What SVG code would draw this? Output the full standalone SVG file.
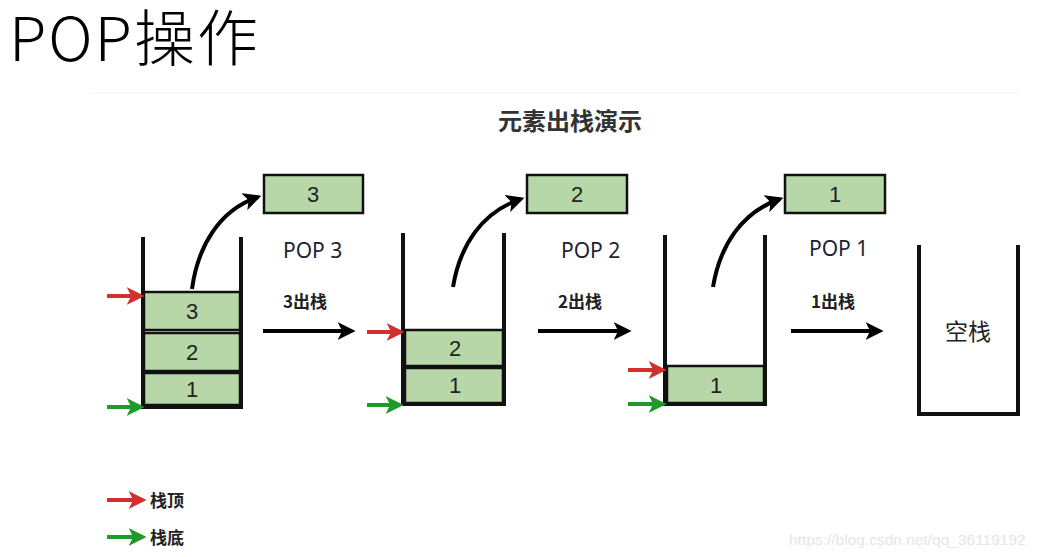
<svg xmlns="http://www.w3.org/2000/svg" width="1041" height="557" viewBox="0 0 1041 557">
<defs>
<marker id="ah" viewBox="0 0 10 10" refX="8" refY="5" markerWidth="4.5" markerHeight="4.5" orient="auto" markerUnits="strokeWidth"><path d="M0,0 L10,5 L0,10 L2.5,5 Z" fill="#000"/></marker>
<marker id="ahr" viewBox="0 0 10 10" refX="8" refY="5" markerWidth="4.5" markerHeight="4.5" orient="auto" markerUnits="strokeWidth"><path d="M0,0 L10,5 L0,10 L2.5,5 Z" fill="#d32f2f"/></marker>
<marker id="ahg" viewBox="0 0 10 10" refX="8" refY="5" markerWidth="4.5" markerHeight="4.5" orient="auto" markerUnits="strokeWidth"><path d="M0,0 L10,5 L0,10 L2.5,5 Z" fill="#1e9a2a"/></marker>
</defs>
<style>
.wall{fill:none;stroke:#111;stroke-width:4;stroke-linejoin:miter}
.box{fill:#b7d7a8;stroke:#111;stroke-width:2.5}
.num{font-family:"Liberation Sans",Arial,sans-serif;font-size:22px;fill:#222;text-anchor:middle}
.pop{font-family:"Noto Sans","Open Sans",sans-serif;font-size:21px;fill:#1c2433}
.cn{font-family:"Noto Sans CJK SC","Noto Sans",sans-serif;font-weight:bold;font-size:17px;fill:#222}
.conn{fill:none;stroke:#000;stroke-width:4;marker-end:url(#ah)}
.red{fill:none;stroke:#d32f2f;stroke-width:4;marker-end:url(#ahr)}
.green{fill:none;stroke:#1e9a2a;stroke-width:4;marker-end:url(#ahg)}
</style>
<rect width="1041" height="557" fill="#fff"/>
<text x="9" y="61" font-family="Noto Sans CJK SC,Noto Sans,sans-serif" font-weight="300" font-size="61" letter-spacing="2" fill="#000">POP操作</text>
<line x1="90" y1="93" x2="1020" y2="93" stroke="#f3f3f3" stroke-width="1"/>
<text x="570" y="130" text-anchor="middle" font-family="Noto Sans CJK SC,sans-serif" font-weight="bold" font-size="24" fill="#333">元素出栈演示</text>

<g id="stack1">
<rect class="box" x="144" y="292" width="96" height="38"/>
<text class="num" x="192" y="319">3</text>
<rect class="box" x="144" y="333" width="96" height="38"/>
<text class="num" x="192" y="360">2</text>
<rect class="box" x="144" y="373" width="96" height="32"/>
<text class="num" x="192" y="397">1</text>
<path class="wall" d="M143,237 V407 H241 V237"/>
</g>
<g id="popped3">
<rect class="box" x="264" y="175" width="99" height="38"/>
<text class="num" x="313" y="202">3</text>
</g>
<g id="stack2">
<rect class="box" x="405" y="330" width="98" height="36"/>
<text class="num" x="455" y="356">2</text>
<rect class="box" x="405" y="368" width="98" height="35"/>
<text class="num" x="455" y="393">1</text>
<path class="wall" d="M403,233 V404 H504 V233"/>
</g>
<g id="popped2">
<rect class="box" x="527" y="175" width="100" height="38"/>
<text class="num" x="577" y="202">2</text>
</g>
<g id="stack3">
<rect class="box" x="667" y="366" width="97" height="37"/>
<text class="num" x="716" y="393">1</text>
<path class="wall" d="M665,235 V404 H765 V235"/>
</g>
<g id="popped1">
<rect class="box" x="785" y="175" width="100" height="38"/>
<text class="num" x="835" y="202">1</text>
</g>
<g id="emptyStack">
<path class="wall" d="M919,245 V414 H1018 V245"/>
<text x="968" y="340" text-anchor="middle" font-family="Noto Sans CJK SC,sans-serif" font-size="23" fill="#222">空栈</text>
</g>

<g id="labels">
<text class="pop" x="283" y="258">POP 3</text>
<text class="cn" x="283" y="308">3出栈</text>
<text class="pop" x="561" y="258">POP 2</text>
<text class="cn" x="558" y="308">2出栈</text>
<text class="pop" x="809" y="256">POP 1</text>
<text class="cn" x="811" y="308">1出栈</text>
</g>

<g id="connectors">
<path class="conn" d="M192,289 C198,245 220,210 258,197"/>
<path class="conn" d="M453,287 C460,245 482,212 521,199"/>
<path class="conn" d="M713,287 C720,245 742,212 780,199"/>
<path class="conn" d="M263,331 H352"/>
<path class="conn" d="M538,331 H628"/>
<path class="conn" d="M791,331 H880"/>
<path class="red" d="M107,296 H141"/>
<path class="green" d="M107,407 H141"/>
<path class="red" d="M367,332 H401"/>
<path class="green" d="M367,405 H400"/>
<path class="red" d="M628,370 H663"/>
<path class="green" d="M628,404 H663"/>
</g>

<g id="legend">
<path class="red" d="M107,500 H143"/>
<text class="cn" x="150" y="507" font-size="18">栈顶</text>
<path class="green" d="M107,537 H143"/>
<text class="cn" x="150" y="544" font-size="18">栈底</text>
</g>
<text x="789" y="545" font-family="Liberation Sans,Arial,sans-serif" font-size="15.5" fill="#e6e6e6">https://blog.csdn.net/qq_36119192</text>
</svg>
